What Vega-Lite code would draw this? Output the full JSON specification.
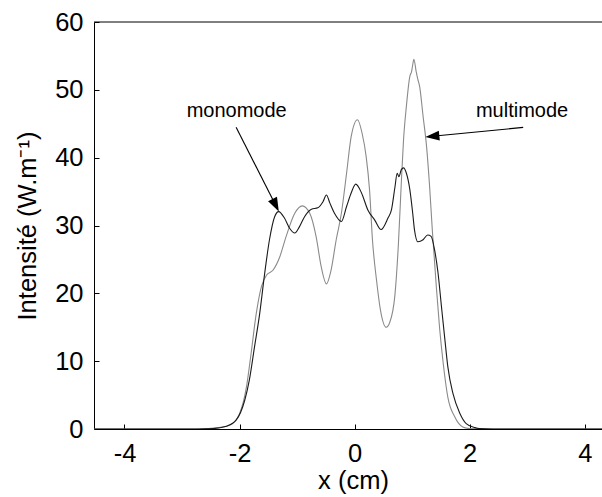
{
  "$schema": "https://vega.github.io/schema/vega-lite/v6.json",
  "width": 508,
  "height": 407,
  "autosize": {"type": "none"},
  "padding": {"left": 94, "top": 22, "right": 0, "bottom": 68},
  "background": "white",
  "config": {
    "view": {"stroke": null},
    "font": "Liberation Sans",
    "axis": {
      "labelFont": "Liberation Sans",
      "titleFont": "Liberation Sans",
      "labelFontSize": 25.5,
      "titleFontSize": 25.5,
      "titleFontWeight": "normal",
      "labelColor": "black",
      "titleColor": "black",
      "domainColor": "black",
      "tickColor": "black",
      "grid": false
    }
  },
  "layer": [
    {
      "data": {"values": [
        {"s":"multimode","x":-4.53,"y":0},{"s":"multimode","x":-2.75,"y":0},{"s":"multimode","x":-2.58,"y":0.06},{"s":"multimode","x":-2.37,"y":0.2},{"s":"multimode","x":-2.17,"y":0.55},{"s":"multimode","x":-2.0,"y":2.27},{"s":"multimode","x":-1.88,"y":6.2},{"s":"multimode","x":-1.8,"y":11.1},{"s":"multimode","x":-1.71,"y":17.0},{"s":"multimode","x":-1.62,"y":21.0},{"s":"multimode","x":-1.53,"y":22.7},{"s":"multimode","x":-1.42,"y":23.4},{"s":"multimode","x":-1.3,"y":25.4},{"s":"multimode","x":-1.19,"y":28.4},{"s":"multimode","x":-1.04,"y":31.8},{"s":"multimode","x":-0.91,"y":32.9},{"s":"multimode","x":-0.78,"y":31.8},{"s":"multimode","x":-0.67,"y":28.4},{"s":"multimode","x":-0.58,"y":23.9},{"s":"multimode","x":-0.49,"y":21.4},{"s":"multimode","x":-0.41,"y":23.4},{"s":"multimode","x":-0.32,"y":27.9},{"s":"multimode","x":-0.23,"y":31.8},{"s":"multimode","x":-0.14,"y":37.7},{"s":"multimode","x":-0.06,"y":43.1},{"s":"multimode","x":0.05,"y":45.6},{"s":"multimode","x":0.13,"y":43.6},{"s":"multimode","x":0.2,"y":40.2},{"s":"multimode","x":0.26,"y":35.2},{"s":"multimode","x":0.31,"y":27.9},{"s":"multimode","x":0.38,"y":22.0},{"s":"multimode","x":0.45,"y":17.5},{"s":"multimode","x":0.55,"y":15.0},{"s":"multimode","x":0.61,"y":15.7},{"s":"multimode","x":0.7,"y":19.7},{"s":"multimode","x":0.76,"y":27.1},{"s":"multimode","x":0.81,"y":36.0},{"s":"multimode","x":0.85,"y":42.6},{"s":"multimode","x":0.9,"y":47.6},{"s":"multimode","x":0.96,"y":52.0},{"s":"multimode","x":0.99,"y":52.7},{"s":"multimode","x":1.01,"y":53.7},{"s":"multimode","x":1.03,"y":54.5},{"s":"multimode","x":1.07,"y":52.7},{"s":"multimode","x":1.1,"y":51.5},{"s":"multimode","x":1.13,"y":50.5},{"s":"multimode","x":1.19,"y":46.1},{"s":"multimode","x":1.25,"y":41.7},{"s":"multimode","x":1.3,"y":36.2},{"s":"multimode","x":1.35,"y":29.4},{"s":"multimode","x":1.42,"y":21.0},{"s":"multimode","x":1.48,"y":14.6},{"s":"multimode","x":1.54,"y":9.7},{"s":"multimode","x":1.62,"y":4.7},{"s":"multimode","x":1.74,"y":1.8},{"s":"multimode","x":1.88,"y":0.3},{"s":"multimode","x":2.0,"y":0.06},{"s":"multimode","x":2.2,"y":0},{"s":"multimode","x":4.3,"y":0},
        {"s":"monomode","x":-4.53,"y":0},{"s":"monomode","x":-2.7,"y":0},{"s":"monomode","x":-2.46,"y":0.06},{"s":"monomode","x":-2.23,"y":0.4},{"s":"monomode","x":-2.06,"y":1.3},{"s":"monomode","x":-1.91,"y":4.24},{"s":"monomode","x":-1.83,"y":7.2},{"s":"monomode","x":-1.74,"y":12.1},{"s":"monomode","x":-1.65,"y":17.0},{"s":"monomode","x":-1.57,"y":22.5},{"s":"monomode","x":-1.48,"y":27.9},{"s":"monomode","x":-1.39,"y":31.3},{"s":"monomode","x":-1.32,"y":32.05},{"s":"monomode","x":-1.22,"y":31.1},{"s":"monomode","x":-1.13,"y":29.6},{"s":"monomode","x":-1.04,"y":28.9},{"s":"monomode","x":-0.96,"y":29.8},{"s":"monomode","x":-0.87,"y":31.3},{"s":"monomode","x":-0.75,"y":32.4},{"s":"monomode","x":-0.64,"y":32.6},{"s":"monomode","x":-0.55,"y":33.5},{"s":"monomode","x":-0.49,"y":34.5},{"s":"monomode","x":-0.43,"y":33.3},{"s":"monomode","x":-0.35,"y":31.8},{"s":"monomode","x":-0.23,"y":30.6},{"s":"monomode","x":-0.14,"y":32.8},{"s":"monomode","x":-0.06,"y":34.8},{"s":"monomode","x":0.02,"y":36.1},{"s":"monomode","x":0.12,"y":34.8},{"s":"monomode","x":0.23,"y":32.3},{"s":"monomode","x":0.35,"y":30.8},{"s":"monomode","x":0.46,"y":29.4},{"s":"monomode","x":0.58,"y":31.1},{"s":"monomode","x":0.64,"y":32.3},{"s":"monomode","x":0.7,"y":35.6},{"s":"monomode","x":0.74,"y":37.7},{"s":"monomode","x":0.77,"y":37.2},{"s":"monomode","x":0.81,"y":38.2},{"s":"monomode","x":0.85,"y":38.5},{"s":"monomode","x":0.9,"y":37.7},{"s":"monomode","x":0.96,"y":35.3},{"s":"monomode","x":1.01,"y":31.8},{"s":"monomode","x":1.04,"y":29.4},{"s":"monomode","x":1.1,"y":27.6},{"s":"monomode","x":1.19,"y":27.9},{"s":"monomode","x":1.27,"y":28.6},{"s":"monomode","x":1.33,"y":28.4},{"s":"monomode","x":1.39,"y":26.4},{"s":"monomode","x":1.45,"y":23.0},{"s":"monomode","x":1.51,"y":18.0},{"s":"monomode","x":1.57,"y":13.1},{"s":"monomode","x":1.62,"y":9.2},{"s":"monomode","x":1.71,"y":5.2},{"s":"monomode","x":1.83,"y":2.3},{"s":"monomode","x":1.94,"y":0.8},{"s":"monomode","x":2.09,"y":0.2},{"s":"monomode","x":2.17,"y":0.06},{"s":"monomode","x":2.4,"y":0},{"s":"monomode","x":4.3,"y":0}
      ]},
      "mark": {"type": "line", "strokeWidth": 1.1, "clip": true, "interpolate": "monotone"},
      "encoding": {
        "x": {"field": "x", "type": "quantitative",
              "scale": {"domain": [-4.53, 4.3], "nice": false, "zero": false},
              "axis": {"values": [-4, -2, 0, 2, 4], "labelExpr": "'' + datum.value", "title": "x (cm)", "tickSize": -5, "labelPadding": 17, "titlePadding": 2, "titleX": 259, "labelFlush": false}},
        "y": {"field": "y", "type": "quantitative",
              "scale": {"domain": [0, 60], "nice": false},
              "axis": {"values": [0, 10, 20, 30, 40, 50, 60], "title": "Intensité (W.m⁻¹)", "tickSize": -5, "labelPadding": 16, "titlePadding": 14}},
        "color": {"field": "s", "type": "nominal",
                  "scale": {"domain": ["monomode", "multimode"], "range": ["#1a1a1a", "#8a8a8a"]},
                  "legend": null},
        "order": {"field": "x", "type": "quantitative"}
      }
    },
    {
      "data": {"values": [{"t": 60}]},
      "mark": {"type": "rule", "color": "black", "strokeWidth": 1},
      "encoding": {"y": {"field": "t", "type": "quantitative"}}
    },
    {
      "data": {"values": [
        {"x": -2.06, "y": 44.5, "x2": -1.372, "y2": 32.98},
        {"x": 2.93, "y": 44.46, "x2": 1.351, "y2": 43.15}
      ]},
      "mark": {"type": "rule", "color": "black", "strokeWidth": 1.1},
      "encoding": {
        "x": {"field": "x", "type": "quantitative"},
        "y": {"field": "y", "type": "quantitative"},
        "x2": {"field": "x2"},
        "y2": {"field": "y2"}
      }
    },
    {
      "data": {"values": [
        {"x": -1.372, "y": 32.98, "a": 153.2},
        {"x": 1.351, "y": 43.15, "a": 264.4}
      ]},
      "mark": {"type": "point", "shape": "M0,-1L0.71,1L-0.71,1Z", "filled": true, "color": "black", "size": 196, "opacity": 1},
      "encoding": {
        "x": {"field": "x", "type": "quantitative"},
        "y": {"field": "y", "type": "quantitative"},
        "angle": {"field": "a", "type": "quantitative", "scale": null}
      }
    },
    {
      "data": {"values": [
        {"x": -2.05, "y": 46.9, "label": "monomode"},
        {"x": 2.91, "y": 46.9, "label": "multimode"}
      ]},
      "mark": {"type": "text", "font": "Liberation Sans", "fontSize": 20, "color": "black", "align": "center", "baseline": "middle"},
      "encoding": {
        "x": {"field": "x", "type": "quantitative"},
        "y": {"field": "y", "type": "quantitative"},
        "text": {"field": "label"}
      }
    }
  ]
}
